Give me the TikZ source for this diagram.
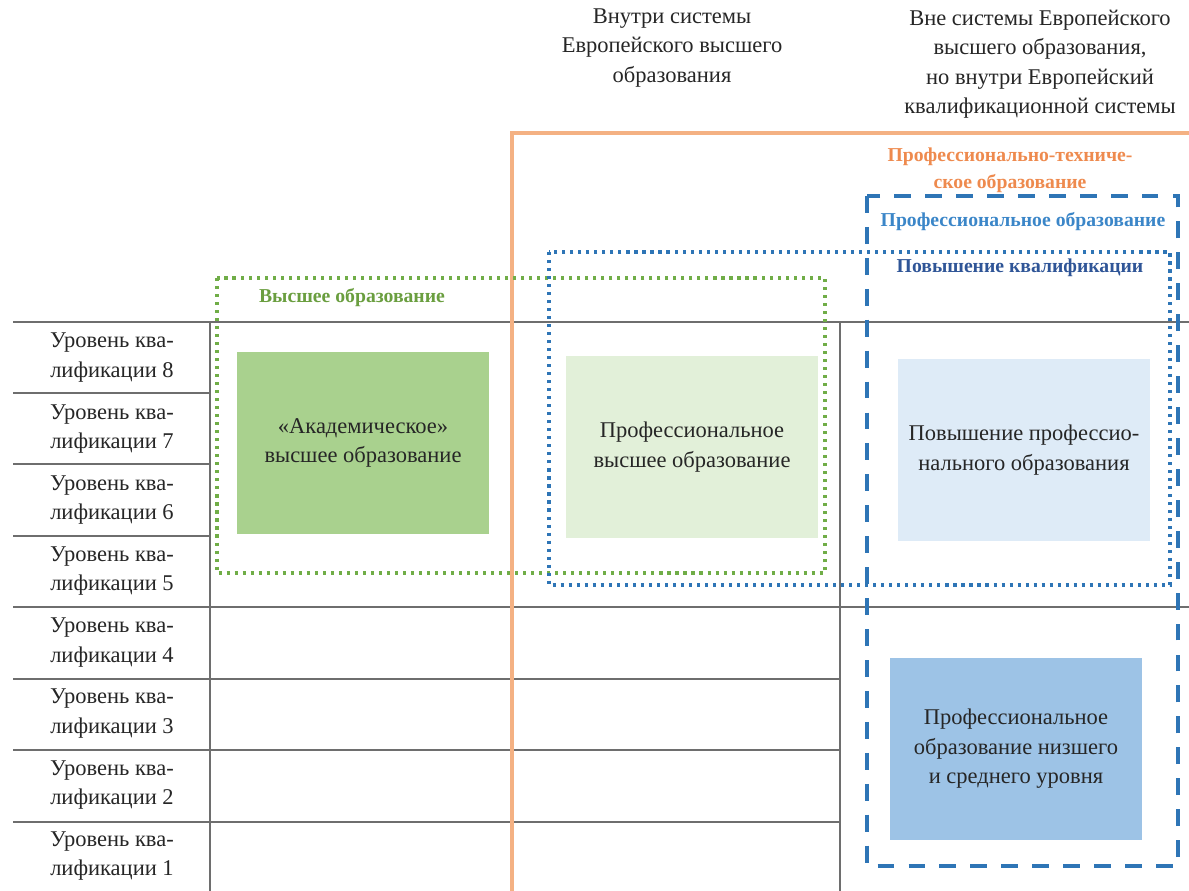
\documentclass[tikz,border=0pt]{standalone}
\usepackage{fontspec}
\setmainfont{Liberation Serif}
\definecolor{gridgray}{HTML}{6E6E6E}
\definecolor{orline}{HTML}{F4B183}
\definecolor{ortext}{HTML}{EE8A4E}
\definecolor{gdot}{HTML}{70AD47}
\definecolor{gtext}{HTML}{6A9E3F}
\definecolor{bdot}{HTML}{2E75B6}
\definecolor{btext}{HTML}{3B86C8}
\definecolor{bdark}{HTML}{2F5597}
\definecolor{acadfill}{HTML}{A9D18E}
\definecolor{proffill}{HTML}{E2F0D9}
\definecolor{qualfill}{HTML}{DEEBF7}
\definecolor{vocfill}{HTML}{9DC3E6}
\begin{document}
\begin{tikzpicture}[x=0.025cm, y=-0.025cm,
    txt/.style={align=center, font=\fontsize{16}{21}\selectfont, text=black!85},
    lbl/.style={align=center, font=\fontsize{14}{19}\selectfont\bfseries},
    grid/.style={draw=gridgray, line width=0.8pt},
    fillbox/.style={txt, minimum width=6.3cm, minimum height=4.55cm, inner sep=0pt},
    greendots/.style={draw=gdot, line width=2.4pt, dash pattern=on 2.2pt off 3.5pt},
    bluedots/.style={draw=bdot, line width=2.4pt, dash pattern=on 2.2pt off 3.5pt},
    bluedash/.style={draw=bdot, line width=2.6pt, dash pattern=on 12pt off 10pt}]
  \useasboundingbox (0,0) rectangle (1189,891);

  % headers
  \node[txt] (hdrin) at (672,48) {Внутри системы\\Европейского высшего\\образования};
  \node[txt] (hdrout) at (1040,64) {Вне системы Европейского\\высшего образования,\\но внутри Европейский\\квалификационной системы};

  % table
  \draw[grid] (13,322) -- (1189,322);
  \draw[grid] (13,607) -- (1189,607);
  \foreach \y in {393,464,536} \draw[grid] (13,\y) -- (210,\y);
  \foreach \y in {679,750,822} \draw[grid] (13,\y) -- (840,\y);
  \draw[grid] (210,322) -- (210,891);
  \draw[grid] (840,322) -- (840,891);
  \foreach \n in {1,...,8}
    \node[txt] (lvl\n) at (112,{322+(8.5-\n)*71.2}) {Уровень ква-\\лификации \n};

  % orange frame
  \draw[orline, line width=2.8pt] (1189,133) -- (512,133) -- (512,891);
  \node[lbl, text=ortext] (techlbl) at (1010,170) {Профессионально-техниче-\\ское образование};

  % filled boxes
  \node[fillbox, fill=acadfill] (acad) at (363,443) {«Академическое»\\высшее образование};
  \node[fillbox, fill=proffill] (profhigh) at (692,447) {Профессиональное\\высшее образование};
  \node[fillbox, fill=qualfill] (qualup) at (1024,450) {Повышение профессио-\\нального образования};
  \node[fillbox, fill=vocfill] (voc) at (1016,749) {Профессиональное\\образование низшего\\и среднего уровня};

  % dotted and dashed frames
  \draw[greendots] (217,278) rectangle (825,573);
  \node[lbl, text=gtext] (higherlbl) at (352,298) {Высшее образование};
  \draw[bluedots] (549,252) rectangle (1170,585);
  \node[lbl, text=bdark] (quallbl) at (1020,268) {Повышение квалификации};
  \draw[bluedash] (867,196) rectangle (1178,866);
  \node[lbl, text=btext] (proflbl) at (1023,222) {Профессиональное образование};
\end{tikzpicture}
\end{document}
